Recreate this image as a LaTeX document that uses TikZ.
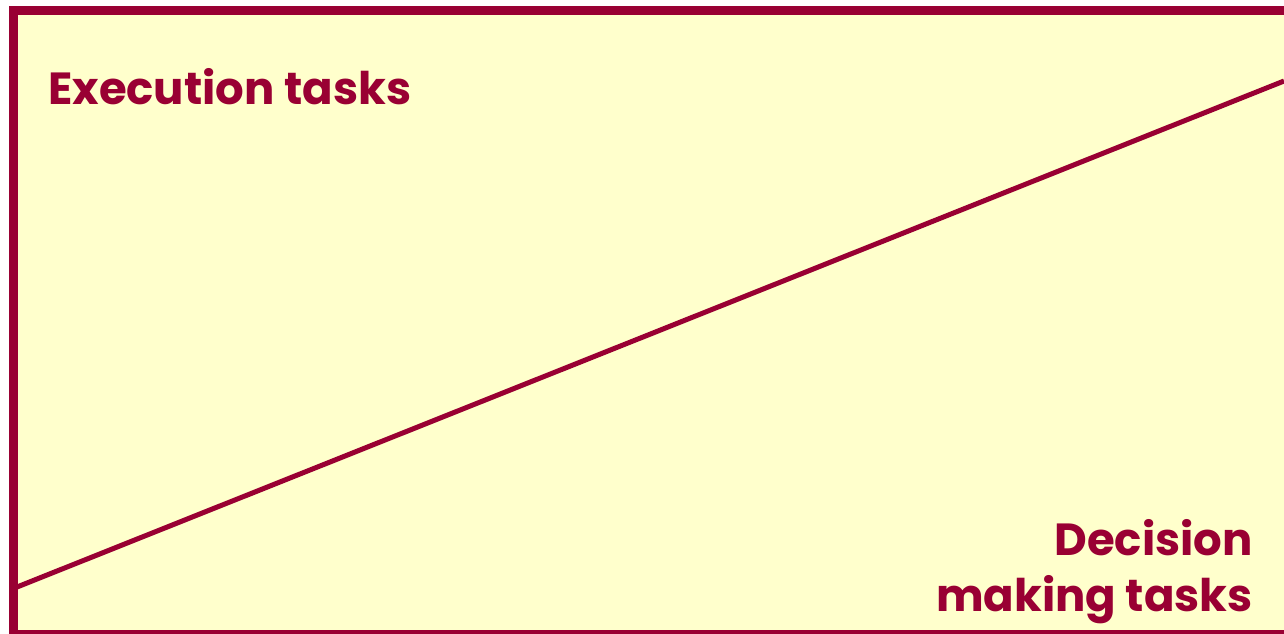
\documentclass[tikz,border=0pt]{standalone}
\usepackage{fontspec}
\setmainfont{Poppins}
\definecolor{crimson}{HTML}{990033}
\definecolor{paleyellow}{HTML}{FFFFCC}
\begin{document}
\begin{tikzpicture}[x=1pt,y=-1pt,
  lbl/.style={text=crimson,font=\bfseries\fontsize{45}{56}\selectfont,inner sep=0pt}]
\useasboundingbox (0,0) rectangle (1284,633);
\begin{scope}
\clip (0,0) rectangle (1284,633);
\draw[crimson,line width=8.5pt,fill=paleyellow] (13.5,10.5) rectangle (1300,634);
\coordinate (a) at (17,587);
\coordinate (b) at (1284,81);
\draw[crimson,line width=5pt] (a) -- (b);
\end{scope}
\node[lbl,anchor=base west] (exec) at (48,104) {Execution tasks};
\node[lbl,anchor=base east,align=right] (dec) at (1253,611) {Decision\\making tasks};
\end{tikzpicture}
\end{document}
